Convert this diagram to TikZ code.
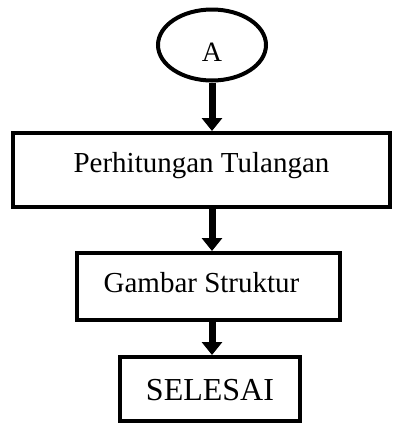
\documentclass[tikz,border=0pt]{standalone}
\usepackage{fontspec}
\setmainfont{Liberation Serif}
\usetikzlibrary{shapes.geometric,arrows.meta}
\tikzset{
  flow/.style={draw, line width=4bp, inner sep=0pt, text depth=0pt,
    font=\fontsize{29bp}{34bp}\selectfont},
  proc/.style={flow, rectangle},
  term/.style={flow, ellipse},
  go/.style={line width=7bp, -{Triangle[width=20bp,length=13bp]}}
}
\begin{document}
\begin{tikzpicture}[x=1bp,y=-1bp]
      \useasboundingbox (0,0) rectangle (393,425);
      \draw
        (212,45) node[term, minimum width=108bp, minimum height=71bp,
          text height=32bp, font=\fontsize{28bp}{33bp}\selectfont] (A){A}
        (201.5,170) node[proc, minimum width=377bp, minimum height=74bp,
          text height=4bp] (hitung){Perhitungan Tulangan}
        (208.5,286.5) node[proc, minimum width=263bp, minimum height=67bp,
          text height=12bp] (gambar){Gambar Struktur\hspace*{14bp}}
        (210,389) node[proc, minimum width=180bp, minimum height=64bp,
          text height=22bp, font=\fontsize{32bp}{38bp}\selectfont] (selesai){SELESAI};
      \begin{scope}[go]
        \draw (A) to (A |- hitung.north);
        \draw (hitung.south -| A) to (A |- gambar.north);
        \draw (gambar.south -| A) to (A |- selesai.north);
      \end{scope}
    \end{tikzpicture}
\end{document}
